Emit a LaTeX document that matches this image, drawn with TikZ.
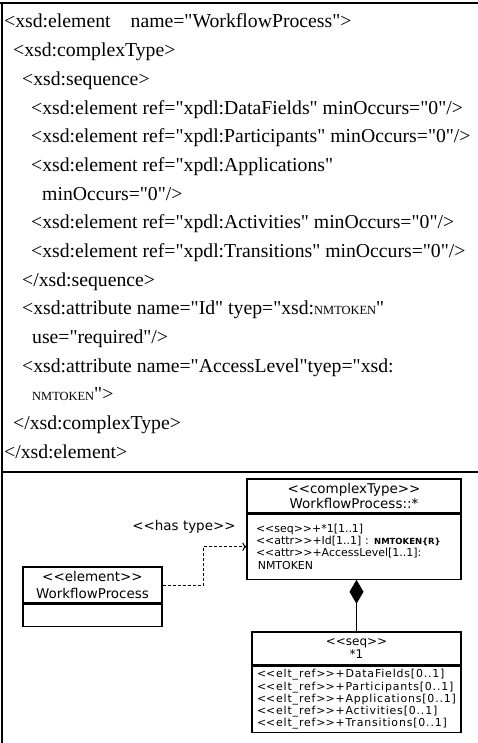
\documentclass[tikz,border=0pt]{standalone}
\usepackage{fontspec}
\newfontfamily\xmlfont{Liberation Serif}
\newfontfamily\umlfont{DejaVu Sans}
\usetikzlibrary{arrows.meta}
\newcommand\stereo[1]{<\kern0pt<#1>\kern0pt>}
\newcommand\smalltok{{\fontsize{12.5}{12.5}\selectfont NMTOKEN}}

\tikzset{
	xml/.style={anchor=base west, inner sep=0pt, font={\xmlfont\fontsize{19.8}{19.8}\selectfont}},
	umlhead/.style={draw, line width=1.2pt, align=center, inner sep=1pt, font={\umlfont\fontsize{13.5}{15}\selectfont}},
	umlbody/.style={draw, line width=1.2pt, anchor=north, align=left, inner xsep=8bp, font={\umlfont\fontsize{11}{12.3}\selectfont}},
}

\begin{document}
\begin{tikzpicture}[x=1bp, y=-1bp]
	\useasboundingbox (0,0) rectangle (478,743);
	
	% frame
	\draw[line width=1.2pt] (0,3) -- (478,3);
	\draw[line width=1.2pt] (2,3) -- (2,743);
	\draw[line width=1.2pt] (2,472) -- (478,472);
	
	% schema text
	\node[xml] (l1) at (4,28) {<xsd:element\hspace{20bp}name="WorkflowProcess">};
	\node[xml] (l2) at (13,56.7) {<xsd:complexType>};
	\node[xml] (l3) at (22,85.3) {<xsd:sequence>};
	\node[xml] (l4) at (31,114) {<xsd:element ref="xpdl:DataFields" minOccurs="0"/>};
	\node[xml] (l5) at (31,142.7) {<xsd:element ref="xpdl:Participants" minOccurs="0"/>};
	\node[xml] (l6) at (31,171.3) {<xsd:element ref="xpdl:Applications"};
	\node[xml] (l7) at (42,200) {minOccurs="0"/>};
	\node[xml] (l8) at (31,228.7) {<xsd:element ref="xpdl:Activities" minOccurs="0"/>};
	\node[xml] (l9) at (31,257.3) {<xsd:element ref="xpdl:Transitions" minOccurs="0"/>};
	\node[xml] (l10) at (22,286) {</xsd:sequence>};
	\node[xml] (l11) at (22,314.7) {<xsd:attribute name="Id" tyep="xsd:\smalltok"};
	\node[xml] (l12) at (32,343.3) {use="required"/>};
	\node[xml] (l13) at (22,372) {<xsd:attribute name="AccessLevel"tyep="xsd:};
	\node[xml] (l14) at (32,400.7) {\smalltok">};
	\node[xml] (l15) at (13,429.3) {</xsd:complexType>};
	\node[xml] (l16) at (4,458) {</xsd:element>};
	
	% uml
	\node[umlhead, minimum width=214bp, minimum height=34bp] (cthead) at (354,496) {\stereo{complexType}\\WorkflowProcess::*};
	\node[umlbody, minimum width=214bp, minimum height=65bp, text width=196bp] (ctbody) at (cthead.south) {\stereo{seq}+*1[1..1]\\\stereo{attr}+Id[1..1] : {\bfseries\fontsize{8.5}{8.5}\selectfont NMTOKEN\{R\}}\\\stereo{attr}+AccessLevel[1..1]:\\\,NMTOKEN};
	
	\node[umlhead, minimum width=209bp, minimum height=33bp, font={\umlfont\fontsize{12}{14}\selectfont}] (seqhead) at (356.5,648.5) {\stereo{seq}\\*1};
	\node[umlbody, minimum width=209bp, minimum height=64bp, text width=199bp, inner xsep=5bp, font={\umlfont\fontsize{11}{12.3}\selectfont\addfontfeature{LetterSpace=7.5}}] (seqbody) at (seqhead.south) {\stereo{elt\_ref}+DataFields[0..1]\\\stereo{elt\_ref}+Participants[0..1]\\\stereo{elt\_ref}+Applications[0..1]\\\stereo{elt\_ref}+Activities[0..1]\\\stereo{elt\_ref}+Transitions[0..1]};
	
	\node[umlhead, minimum width=139bp, minimum height=36bp, font={\umlfont\fontsize{13.5}{17}\selectfont}] (elhead) at (92.5,585) {\stereo{element}\\WorkflowProcess};
	\node[umlbody, minimum width=139bp, minimum height=22bp] (elbody) at (elhead.south) {};
	
	\node[font={\umlfont\fontsize{13.5}{15}\selectfont}] (hastype) at (184,527) {\stereo{has type}};
	
	\draw[dash pattern=on 3bp off 2bp, line width=1pt, -{To[length=4bp]}] (elhead.east) -- ++(41,0) |- (ctbody.west);
	\draw[line width=1.2pt, {Diamond[length=24bp,width=14bp]}-] (seqhead.north |- ctbody.south) -- (seqhead.north);
\end{tikzpicture}
\end{document}
